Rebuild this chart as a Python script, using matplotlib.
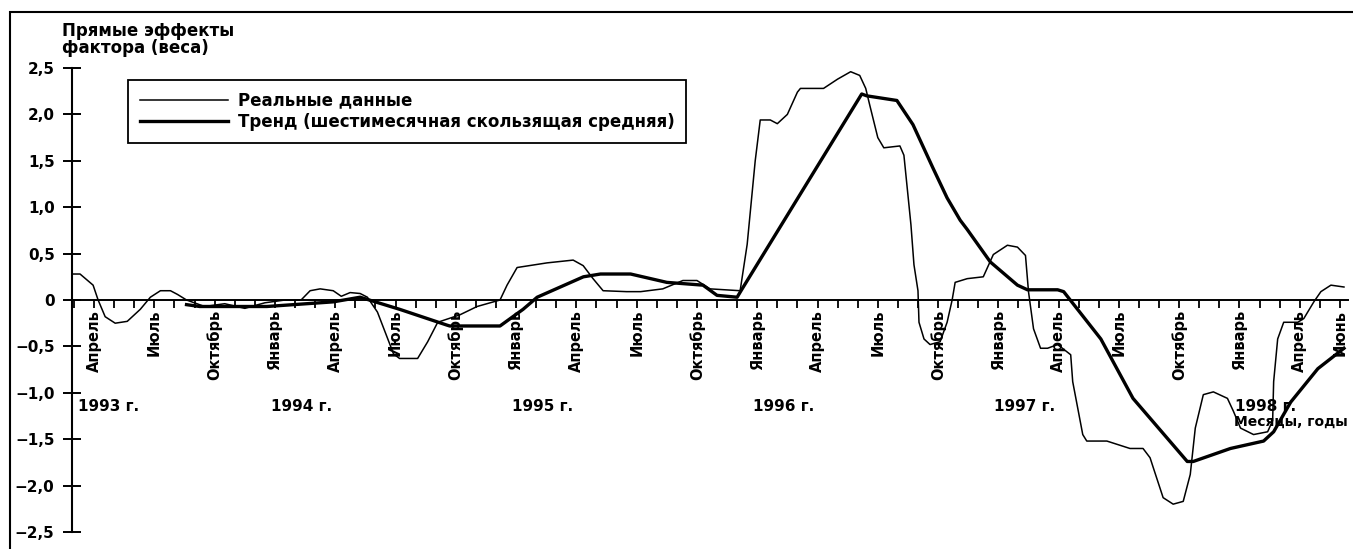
import matplotlib
matplotlib.use("Agg")
from matplotlib import pyplot as plt
from matplotlib.patches import Rectangle
from matplotlib.ticker import MultipleLocator, FuncFormatter

plt.rcParams["font.family"] = ["DejaVu Sans"]
plt.rcParams["font.weight"] = "bold"

# months are counted from January 1993 = 0
real_months = [
    1.9, 2.3, 2.95, 3.2, 3.55, 4.05, 4.65, 5.3, 5.8, 6.3, 6.8, 7.15, 7.6,
    8.5, 9.5, 10.5, 11.5, 12.5, 13.3, 13.75, 14.25, 14.9, 15.3, 15.74,
    16.24, 16.6, 17.1, 17.9, 18.2, 19.1, 19.6, 20.1, 21.2, 22.06, 23.2,
    23.55, 24.05, 25.54, 26.84, 27.34, 27.83, 28.33, 29.5, 30.2, 31.3,
    32.3, 33.0, 33.65, 35.15, 35.5, 35.9, 36.15, 36.65, 37.0, 37.5, 38.0,
    38.15, 39.3, 40.0, 40.65, 41.1, 41.4, 41.6, 42.0, 42.3, 43.1, 43.3,
    43.65, 43.8, 44.0, 44.05, 44.3, 44.6, 45.1, 45.45, 45.7, 45.85, 46.45,
    47.25, 47.75, 48.45, 48.95, 49.35, 49.5, 49.75, 50.1, 50.45, 50.95,
    51.6, 51.7, 52.2, 52.4, 53.4, 54.55, 55.2, 55.55, 55.7, 56.2, 56.7,
    57.2, 57.55, 57.8, 58.2, 58.7, 59.4, 59.7, 60.05, 60.7, 61.4, 61.65,
    61.7, 61.9, 62.2, 62.9, 63.2, 63.7, 64.05, 64.55, 65.2,
]
real_values = [
    0.28, 0.28, 0.16, 0.0, -0.18, -0.25, -0.23, -0.1, 0.03, 0.1, 0.1, 0.06,
    0.0, -0.07, -0.04, -0.09, -0.03, 0.0, 0.0, 0.1, 0.12, 0.1, 0.04, 0.08,
    0.07, 0.03, -0.13, -0.58, -0.63, -0.63, -0.45, -0.24, -0.16, -0.07,
    0.0, 0.16, 0.35, 0.4, 0.43, 0.37, 0.23, 0.1, 0.09, 0.09, 0.12, 0.21,
    0.21, 0.12, 0.1, 0.6, 1.5, 1.94, 1.94, 1.9, 2.0, 2.24, 2.28, 2.28,
    2.38, 2.46, 2.42, 2.28, 2.1, 1.75, 1.64, 1.66, 1.56, 0.81, 0.38, 0.1,
    -0.24, -0.42, -0.48, -0.45, -0.24, 0.0, 0.19, 0.23, 0.25, 0.49, 0.59,
    0.57, 0.48, 0.09, -0.31, -0.52, -0.52, -0.48, -0.59, -0.88, -1.45,
    -1.52, -1.52, -1.6, -1.6, -1.7, -1.8, -2.13, -2.2, -2.17, -1.88, -1.38,
    -1.02, -0.99, -1.06, -1.2, -1.38, -1.45, -1.42, -1.3, -0.88, -0.42,
    -0.24, -0.24, -0.2, -0.02, 0.09, 0.16, 0.14,
]

trend_months = [
    7.6, 8.25, 11.6, 14.9, 16.24, 18.2, 20.55, 20.7, 23.2, 24.35, 25.05,
    27.35, 28.2, 29.7, 31.5, 33.3, 34.0, 35.0, 35.25, 41.2, 41.45, 42.95,
    43.75, 44.75, 45.45, 46.1, 46.45, 47.6, 48.95, 49.45, 50.95, 51.25,
    53.1, 54.7, 57.4, 57.7, 59.55, 61.2, 61.7, 62.55, 63.9, 65.2,
]
trend_values = [
    -0.05, -0.07, -0.07, -0.02, 0.03, -0.1, -0.27, -0.28, -0.28, -0.1,
    0.03, 0.25, 0.28, 0.28, 0.19, 0.16, 0.05, 0.03, 0.12, 2.22, 2.2, 2.15,
    1.89, 1.42, 1.1, 0.86, 0.76, 0.41, 0.16, 0.11, 0.11, 0.09, -0.42,
    -1.06, -1.74, -1.74, -1.6, -1.52, -1.42, -1.1, -0.74, -0.52,
]

month_ticks = [3, 6, 9, 12, 15, 18, 21, 24, 27, 30, 33, 36, 39, 42, 45,
               48, 51, 54, 57, 60, 63, 65]
month_labels = ["Апрель", "Июль", "Октябрь", "Январь"] * 5 + ["Апрель", "Июнь"]

year_months = [2.2, 11.8, 23.8, 35.8, 47.8, 59.8]
year_labels = ["1993 г.", "1994 г.", "1995 г.", "1996 г.", "1997 г.", "1998 г."]

y_ticks = [-2.5, -2.0, -1.5, -1.0, -0.5, 0.0, 0.5, 1.0, 1.5, 2.0, 2.5]

W, H = 1353, 549
fig = plt.figure(figsize=(W / 100, H / 100), dpi=100)
ax = fig.add_axes([72 / W, 17 / H, 1276 / W, 464 / H])

real_line, = ax.plot(real_months, real_values, color="black", lw=1.1,
                     label="Реальные данные")
trend_line, = ax.plot(trend_months, trend_values, color="black", lw=2.4,
                      label="Тренд (шестимесячная скользящая средняя)")

ax.set_xlim(1.9, 65.4)
ax.set_ylim(-2.5, 2.5)

for side in ["top", "right"]:
    ax.spines[side].set_visible(False)
ax.spines["bottom"].set_position(("data", 0))
ax.spines["bottom"].set_linewidth(1.4)
ax.spines["left"].set_linewidth(1.5)

ax.set_xticks(month_ticks)
ax.set_xticklabels(month_labels, rotation=90, va="top", fontsize=10.5,
                   fontweight="bold")
ax.xaxis.set_minor_locator(MultipleLocator(1))
ax.tick_params(axis="x", which="both", direction="out", length=6, width=1.3,
               pad=1)

ax.set_yticks(y_ticks)
ax.yaxis.set_major_formatter(FuncFormatter(
    lambda v, _: "0" if v == 0 else f"{v:.1f}".replace(".", ",").replace("-", "−")
))
ax.tick_params(axis="y", direction="inout", length=13, width=1.4,
               labelsize=11, pad=6)

for m, label in zip(year_months, year_labels):
    ax.text(m, -1.15, label, ha="left", va="center", fontsize=11,
            fontweight="bold")
ax.text(65.4, -1.31, "Месяцы, годы", ha="right", va="center", fontsize=10,
        fontweight="bold")

fig.text(62 / W, 1 - 22 / H, "Прямые эффекты\nфактора (веса)", ha="left",
         va="top", fontsize=12, fontweight="bold", linespacing=0.95)

ax.legend(handles=[real_line, trend_line], loc="upper left",
          bbox_to_anchor=(128 / W, 1 - 80 / H), bbox_transform=fig.transFigure,
          frameon=True, fancybox=False, edgecolor="black", framealpha=1,
          prop={"size": 12, "weight": "bold"}, handlelength=5.3,
          borderpad=0.7, labelspacing=0.2, handletextpad=0.6,
          borderaxespad=0)
ax.get_legend().get_frame().set_linewidth(1.3)

fig.add_artist(Rectangle((10 / W, -0.1), 1.2, 1.1 - 12 / H, fill=False,
                         lw=1.5, edgecolor="black",
                         transform=fig.transFigure))

fig.savefig("out.png", dpi=100)
